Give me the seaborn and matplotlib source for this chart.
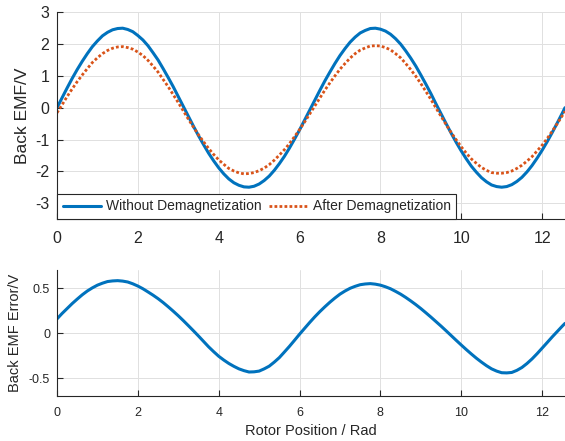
import numpy as np
import pandas as pd
import matplotlib
matplotlib.use("Agg")
import matplotlib.pyplot as plt
import seaborn as sns

# rotor position (rad), one row per radian, last point is 4*pi
rotor_pos = [0.0, 0.125, 0.25, 0.375, 0.5, 0.625, 0.75, 0.875,
             1.0, 1.125, 1.25, 1.375, 1.5, 1.625, 1.75, 1.875,
             2.0, 2.125, 2.25, 2.375, 2.5, 2.625, 2.75, 2.875,
             3.0, 3.125, 3.25, 3.375, 3.5, 3.625, 3.75, 3.875,
             4.0, 4.125, 4.25, 4.375, 4.5, 4.625, 4.75, 4.875,
             5.0, 5.125, 5.25, 5.375, 5.5, 5.625, 5.75, 5.875,
             6.0, 6.125, 6.25, 6.375, 6.5, 6.625, 6.75, 6.875,
             7.0, 7.125, 7.25, 7.375, 7.5, 7.625, 7.75, 7.875,
             8.0, 8.125, 8.25, 8.375, 8.5, 8.625, 8.75, 8.875,
             9.0, 9.125, 9.25, 9.375, 9.5, 9.625, 9.75, 9.875,
             10.0, 10.125, 10.25, 10.375, 10.5, 10.625, 10.75, 10.875,
             11.0, 11.125, 11.25, 11.375, 11.5, 11.625, 11.75, 11.875,
             12.0, 12.125, 12.25, 12.375, 12.5, 12.566]

emf_without = [0.00, 0.31, 0.62, 0.92, 1.20, 1.46, 1.70, 1.92,
               2.10, 2.26, 2.37, 2.45, 2.49, 2.50, 2.46, 2.39,
               2.27, 2.13, 1.95, 1.73, 1.50, 1.23, 0.95, 0.66,
               0.35, 0.04, -0.27, -0.58, -0.88, -1.16, -1.43, -1.67,
               -1.89, -2.08, -2.24, -2.36, -2.44, -2.49, -2.50, -2.47,
               -2.40, -2.29, -2.15, -1.97, -1.76, -1.53, -1.27, -0.99,
               -0.70, -0.39, -0.08, 0.23, 0.54, 0.84, 1.12, 1.39,
               1.64, 1.86, 2.06, 2.22, 2.35, 2.43, 2.49, 2.50,
               2.47, 2.41, 2.31, 2.17, 2.00, 1.79, 1.56, 1.31,
               1.03, 0.74, 0.44, 0.12, -0.19, -0.50, -0.80, -1.09,
               -1.36, -1.61, -1.84, -2.03, -2.20, -2.33, -2.43, -2.48,
               -2.50, -2.48, -2.42, -2.32, -2.19, -2.02, -1.82, -1.59,
               -1.34, -1.07, -0.78, -0.48, -0.17, 0.00]

emf_after = [-0.16, 0.09, 0.35, 0.59, 0.82, 1.03, 1.23, 1.42,
             1.57, 1.70, 1.80, 1.87, 1.91, 1.92, 1.89, 1.84,
             1.75, 1.64, 1.49, 1.31, 1.12, 0.89, 0.66, 0.41,
             0.16, -0.10, -0.36, -0.61, -0.85, -1.07, -1.28, -1.47,
             -1.64, -1.78, -1.91, -1.99, -2.05, -2.08, -2.07, -2.04,
             -1.98, -1.90, -1.79, -1.65, -1.49, -1.32, -1.13, -0.91,
             -0.69, -0.45, -0.20, 0.05, 0.30, 0.55, 0.78, 1.00,
             1.21, 1.39, 1.56, 1.70, 1.81, 1.88, 1.94, 1.95,
             1.94, 1.89, 1.82, 1.70, 1.57, 1.39, 1.20, 0.99,
             0.76, 0.51, 0.26, -0.01, -0.27, -0.53, -0.78, -1.01,
             -1.23, -1.43, -1.61, -1.75, -1.88, -1.97, -2.04, -2.06,
             -2.06, -2.04, -1.99, -1.91, -1.81, -1.68, -1.54, -1.36,
             -1.18, -0.97, -0.74, -0.50, -0.25, -0.11]

emf_error = [0.160, 0.220, 0.275, 0.330, 0.380, 0.428, 0.470, 0.505,
             0.535, 0.557, 0.575, 0.582, 0.585, 0.580, 0.570, 0.550,
             0.525, 0.495, 0.460, 0.424, 0.385, 0.342, 0.295, 0.246,
             0.195, 0.141, 0.085, 0.028, -0.030, -0.090, -0.150, -0.204,
             -0.255, -0.297, -0.335, -0.367, -0.395, -0.415, -0.430, -0.428,
             -0.420, -0.395, -0.365, -0.320, -0.270, -0.208, -0.145, -0.078,
             -0.010, 0.055, 0.120, 0.182, 0.240, 0.294, 0.345, 0.392,
             0.435, 0.470, 0.500, 0.522, 0.540, 0.548, 0.552, 0.546,
             0.535, 0.517, 0.495, 0.466, 0.435, 0.399, 0.360, 0.319,
             0.275, 0.228, 0.180, 0.130, 0.080, 0.028, -0.025, -0.078,
             -0.130, -0.181, -0.230, -0.277, -0.320, -0.360, -0.395, -0.420,
             -0.438, -0.440, -0.435, -0.412, -0.380, -0.336, -0.285, -0.227,
             -0.165, -0.103, -0.040, 0.020, 0.080, 0.110]

top_xticks = [0, 2, 4, 6, 8, 10, 12]
top_yticks = [-3, -2, -1, 0, 1, 2, 3]
err_yticks = [-0.5, 0, 0.5]
err_yticklabels = ["-0.5", "0", "0.5"]

df = pd.DataFrame({"pos": rotor_pos, "without": emf_without,
                   "after": emf_after, "error": emf_error})

sns.set_theme(style="whitegrid")
plt.rcParams["font.family"] = ["Liberation Sans", "DejaVu Sans"]
plt.rcParams["axes.unicode_minus"] = False

BLUE = "#0072BD"
ORANGE = "#D95319"
DARK = "#262626"
xmax = 4 * np.pi

fig = plt.figure(figsize=(5.65, 4.41), dpi=100)
ax1 = fig.add_axes([57 / 565, 1 - 219 / 441, 508 / 565, 206.7 / 441])
ax2 = fig.add_axes([57 / 565, 1 - 396.3 / 441, 508 / 565, 126 / 441])

sns.lineplot(data=df, x="pos", y="without", ax=ax1, color=BLUE, lw=2.2,
             label="Without Demagnetization")
sns.lineplot(data=df, x="pos", y="after", ax=ax1, color=ORANGE, lw=2.0,
             linestyle=(0, (1, 0.8)), label="After Demagnetization")
sns.lineplot(data=df, x="pos", y="error", ax=ax2, color=BLUE, lw=2.2)

for ax in (ax1, ax2):
    ax.set_xlim(0, xmax)
    ax.set_xticks(top_xticks)
    ax.grid(True, color="#e0e0e0", lw=0.7)
    for side in ("top", "right"):
        ax.spines[side].set_visible(False)
    for side in ("left", "bottom"):
        ax.spines[side].set_color(DARK)
        ax.spines[side].set_linewidth(0.8)
    ax.tick_params(bottom=True, left=True, direction="in", length=4, width=0.8,
                   color=DARK, labelcolor=DARK)

ax1.set_ylim(-3.5, 3)
ax1.set_yticks(top_yticks)
ax1.tick_params(axis="both", labelsize=11.5)
ax1.tick_params(axis="x", pad=8.5)
ax1.tick_params(axis="y", pad=5.5)
ax1.set_xlabel("")
ax1.set_ylabel("Back EMF/V", fontsize=12.5, color=DARK, labelpad=4)

leg = ax1.legend(loc="lower left", bbox_to_anchor=(0, 0), borderaxespad=0, ncol=2,
                 fontsize=10, fancybox=False, framealpha=1, edgecolor=DARK,
                 handlelength=2.8, handletextpad=0.35, columnspacing=0.5)
leg.get_frame().set_linewidth(0.8)
for t in leg.get_texts():
    t.set_color(DARK)

ax2.set_ylim(-0.7, 0.7)
ax2.set_yticks(err_yticks)
ax2.set_yticklabels(err_yticklabels)
ax2.tick_params(axis="both", labelsize=9)
ax2.tick_params(axis="x", pad=7.5)
ax2.tick_params(axis="y", pad=5)
ax2.set_xlabel("Rotor Position / Rad", fontsize=10.5, color=DARK, labelpad=4)
ax2.set_ylabel("Back EMF Error/V", fontsize=10.5, color=DARK, labelpad=5)

fig.savefig("out.png", dpi=100)
